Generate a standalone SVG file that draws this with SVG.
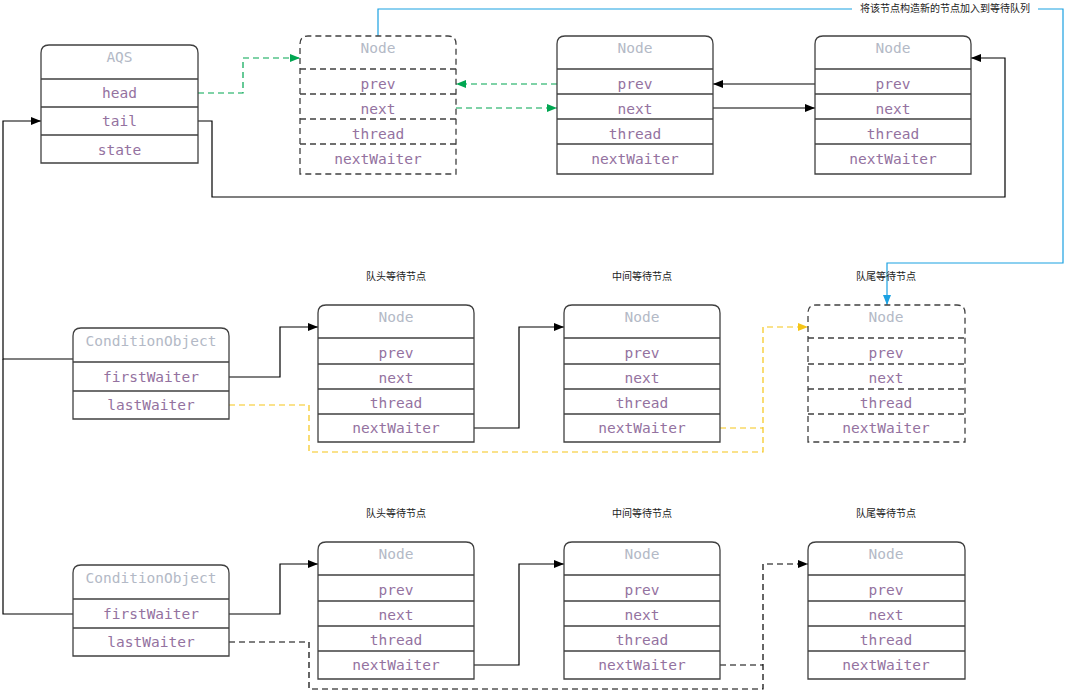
<svg xmlns="http://www.w3.org/2000/svg" width="1066" height="690" viewBox="0 0 1066 690">
<style>
.box{fill:#fff;stroke:#404040;stroke-width:1.3}
.dbox{fill:#fff;stroke:#404040;stroke-width:1.3;stroke-dasharray:6 4}
.sep{stroke:#404040;stroke-width:1.3}
.dsep{stroke:#404040;stroke-width:1.3;stroke-dasharray:6 4}
.t{font-family:"DejaVu Sans Mono","Liberation Mono",monospace;font-size:14.5px;fill:#B3B9C6;text-anchor:middle}
.f{font-family:"DejaVu Sans Mono","Liberation Mono",monospace;font-size:14.5px;fill:#94729F;text-anchor:middle}
.lbl{font-family:"Liberation Sans","Noto Sans CJK SC",sans-serif;font-size:10px;fill:#222;text-anchor:middle}
.c{fill:none;stroke:#000;stroke-width:1.2}
.cd{fill:none;stroke:#000;stroke-width:1.2;stroke-dasharray:6 4}
.g{fill:none;stroke:#00A651;stroke-width:1.2;stroke-dasharray:6 4}
.y{fill:none;stroke:#F5C518;stroke-width:1.2;stroke-dasharray:6 4}
.b{fill:none;stroke:#1BA1E2;stroke-width:1.2}
</style>
<defs>
<marker id="ak" viewBox="0 0 10 8" refX="10" refY="4" markerWidth="10" markerHeight="8" markerUnits="userSpaceOnUse" orient="auto"><path d="M0,0 L10,4 L0,8 Z" fill="#000"/></marker>
<marker id="ag" viewBox="0 0 10 8" refX="10" refY="4" markerWidth="10" markerHeight="8" markerUnits="userSpaceOnUse" orient="auto"><path d="M0,0 L10,4 L0,8 Z" fill="#00A651"/></marker>
<marker id="ay" viewBox="0 0 10 8" refX="10" refY="4" markerWidth="10" markerHeight="8" markerUnits="userSpaceOnUse" orient="auto"><path d="M0,0 L10,4 L0,8 Z" fill="#F5C518"/></marker>
<marker id="ab" viewBox="0 0 10 8" refX="10" refY="4" markerWidth="10" markerHeight="8" markerUnits="userSpaceOnUse" orient="auto"><path d="M0,0 L10,4 L0,8 Z" fill="#1BA1E2"/></marker>
</defs>
<rect width="1066" height="690" fill="#fff"/>

<g id="connectors">
<path class="g" d="M198,93 H243 V58 H300" marker-end="url(#ag)"/>
<path class="g" d="M557,84 H456" marker-end="url(#ag)"/>
<path class="g" d="M456,108 H557" marker-end="url(#ag)"/>
<path class="c" d="M815,84 H713" marker-end="url(#ak)"/>
<path class="c" d="M713,108 H815" marker-end="url(#ak)"/>
<path class="c" d="M198,121 H212 V197 H1005 V58 H971" marker-end="url(#ak)"/>
<path class="c" d="M73,359 H3 V121 H41" marker-end="url(#ak)"/>
<path class="c" d="M73,614 H3 V359"/>
<path class="b" d="M378,36 V9 H1063 V263 H887 V305" marker-end="url(#ab)"/>
<rect x="852" y="2" width="186" height="13" fill="#fff"/>
<text class="lbl" x="945" y="12">将该节点构造新的节点加入到等待队列</text>
<path class="c" d="M229,377 H280 V327 H318" marker-end="url(#ak)"/>
<path class="c" d="M474,428 H519 V327 H564" marker-end="url(#ak)"/>
<path class="y" d="M229,405 H309 V452 H763 V327 H808" marker-end="url(#ay)"/>
<path class="y" d="M720,428 H763"/>
<path class="c" d="M229,614 H280 V564 H318" marker-end="url(#ak)"/>
<path class="c" d="M474,665 H519 V564 H564" marker-end="url(#ak)"/>
<path class="cd" d="M229,642 H309 V689 H763 V564 H808" marker-end="url(#ak)"/>
<path class="cd" d="M720,665 H763"/>
</g>

<g id="aqs">
<path class="box" d="M41,163 V53 Q41,45 49,45 H190 Q198,45 198,53 V163 Z"/>
<path class="sep" d="M41,79 H198 M41,107 H198 M41,135 H198"/>
<text class="t" x="119.5" y="62">AQS</text>
<text class="f" x="119.5" y="97.5">head</text>
<text class="f" x="119.5" y="125.5">tail</text>
<text class="f" x="119.5" y="155">state</text>
</g>

<g id="node1">
<path class="dbox" d="M300,174 V44 Q300,36 308,36 H448 Q456,36 456,44 V174 Z"/>
<path class="dsep" d="M300,69 H456 M300,94 H456 M300,119 H456 M300,144 H456"/>
<text class="t" x="378" y="53">Node</text>
<text class="f" x="378" y="89">prev</text>
<text class="f" x="378" y="113.5">next</text>
<text class="f" x="378" y="139">thread</text>
<text class="f" x="378" y="164">nextWaiter</text>
</g>

<g id="node2">
<path class="box" d="M557,174 V44 Q557,36 565,36 H705 Q713,36 713,44 V174 Z"/>
<path class="sep" d="M557,69 H713 M557,94 H713 M557,119 H713 M557,144 H713"/>
<text class="t" x="635" y="53">Node</text>
<text class="f" x="635" y="89">prev</text>
<text class="f" x="635" y="113.5">next</text>
<text class="f" x="635" y="139">thread</text>
<text class="f" x="635" y="164">nextWaiter</text>
</g>

<g id="node3">
<path class="box" d="M815,174 V44 Q815,36 823,36 H963 Q971,36 971,44 V174 Z"/>
<path class="sep" d="M815,69 H971 M815,94 H971 M815,119 H971 M815,144 H971"/>
<text class="t" x="893" y="53">Node</text>
<text class="f" x="893" y="89">prev</text>
<text class="f" x="893" y="113.5">next</text>
<text class="f" x="893" y="139">thread</text>
<text class="f" x="893" y="164">nextWaiter</text>
</g>

<g id="cond1">
<path class="box" d="M73,419 V336 Q73,328 81,328 H221 Q229,328 229,336 V419 Z"/>
<path class="sep" d="M73,362 H229 M73,391 H229"/>
<text class="t" x="151" y="346">ConditionObject</text>
<text class="f" x="151" y="381.5">firstWaiter</text>
<text class="f" x="151" y="410">lastWaiter</text>
</g>

<g id="label-r2a"><text class="lbl" x="396" y="280">队头等待节点</text></g>
<g id="label-r2b"><text class="lbl" x="642" y="280">中间等待节点</text></g>
<g id="label-r2c"><text class="lbl" x="886" y="280">队尾等待节点</text></g>

<g id="r2-head">
<path class="box" d="M318,442 V313 Q318,305 326,305 H466 Q474,305 474,313 V442 Z"/>
<path class="sep" d="M318,338 H474 M318,364 H474 M318,389 H474 M318,414 H474"/>
<text class="t" x="396" y="322">Node</text>
<text class="f" x="396" y="357.5">prev</text>
<text class="f" x="396" y="383">next</text>
<text class="f" x="396" y="408">thread</text>
<text class="f" x="396" y="433">nextWaiter</text>
</g>

<g id="r2-mid">
<path class="box" d="M564,442 V313 Q564,305 572,305 H712 Q720,305 720,313 V442 Z"/>
<path class="sep" d="M564,338 H720 M564,364 H720 M564,389 H720 M564,414 H720"/>
<text class="t" x="642" y="322">Node</text>
<text class="f" x="642" y="357.5">prev</text>
<text class="f" x="642" y="383">next</text>
<text class="f" x="642" y="408">thread</text>
<text class="f" x="642" y="433">nextWaiter</text>
</g>

<g id="r2-tail">
<path class="dbox" d="M808,442 V313 Q808,305 816,305 H957 Q965,305 965,313 V442 Z"/>
<path class="dsep" d="M808,338 H965 M808,364 H965 M808,389 H965 M808,414 H965"/>
<text class="t" x="886" y="322">Node</text>
<text class="f" x="886" y="357.5">prev</text>
<text class="f" x="886" y="383">next</text>
<text class="f" x="886" y="408">thread</text>
<text class="f" x="886" y="433">nextWaiter</text>
</g>

<g id="cond2">
<path class="box" d="M73,656 V573 Q73,565 81,565 H221 Q229,565 229,573 V656 Z"/>
<path class="sep" d="M73,599 H229 M73,628 H229"/>
<text class="t" x="151" y="583">ConditionObject</text>
<text class="f" x="151" y="618.5">firstWaiter</text>
<text class="f" x="151" y="647">lastWaiter</text>
</g>

<g id="label-r3a"><text class="lbl" x="396" y="517">队头等待节点</text></g>
<g id="label-r3b"><text class="lbl" x="642" y="517">中间等待节点</text></g>
<g id="label-r3c"><text class="lbl" x="886" y="517">队尾等待节点</text></g>

<g id="r3-head">
<path class="box" d="M318,679 V550 Q318,542 326,542 H466 Q474,542 474,550 V679 Z"/>
<path class="sep" d="M318,575 H474 M318,601 H474 M318,626 H474 M318,651 H474"/>
<text class="t" x="396" y="559">Node</text>
<text class="f" x="396" y="594.5">prev</text>
<text class="f" x="396" y="620">next</text>
<text class="f" x="396" y="645">thread</text>
<text class="f" x="396" y="670">nextWaiter</text>
</g>

<g id="r3-mid">
<path class="box" d="M564,679 V550 Q564,542 572,542 H712 Q720,542 720,550 V679 Z"/>
<path class="sep" d="M564,575 H720 M564,601 H720 M564,626 H720 M564,651 H720"/>
<text class="t" x="642" y="559">Node</text>
<text class="f" x="642" y="594.5">prev</text>
<text class="f" x="642" y="620">next</text>
<text class="f" x="642" y="645">thread</text>
<text class="f" x="642" y="670">nextWaiter</text>
</g>

<g id="r3-tail">
<path class="box" d="M808,679 V550 Q808,542 816,542 H957 Q965,542 965,550 V679 Z"/>
<path class="sep" d="M808,575 H965 M808,601 H965 M808,626 H965 M808,651 H965"/>
<text class="t" x="886" y="559">Node</text>
<text class="f" x="886" y="594.5">prev</text>
<text class="f" x="886" y="620">next</text>
<text class="f" x="886" y="645">thread</text>
<text class="f" x="886" y="670">nextWaiter</text>
</g>
</svg>
